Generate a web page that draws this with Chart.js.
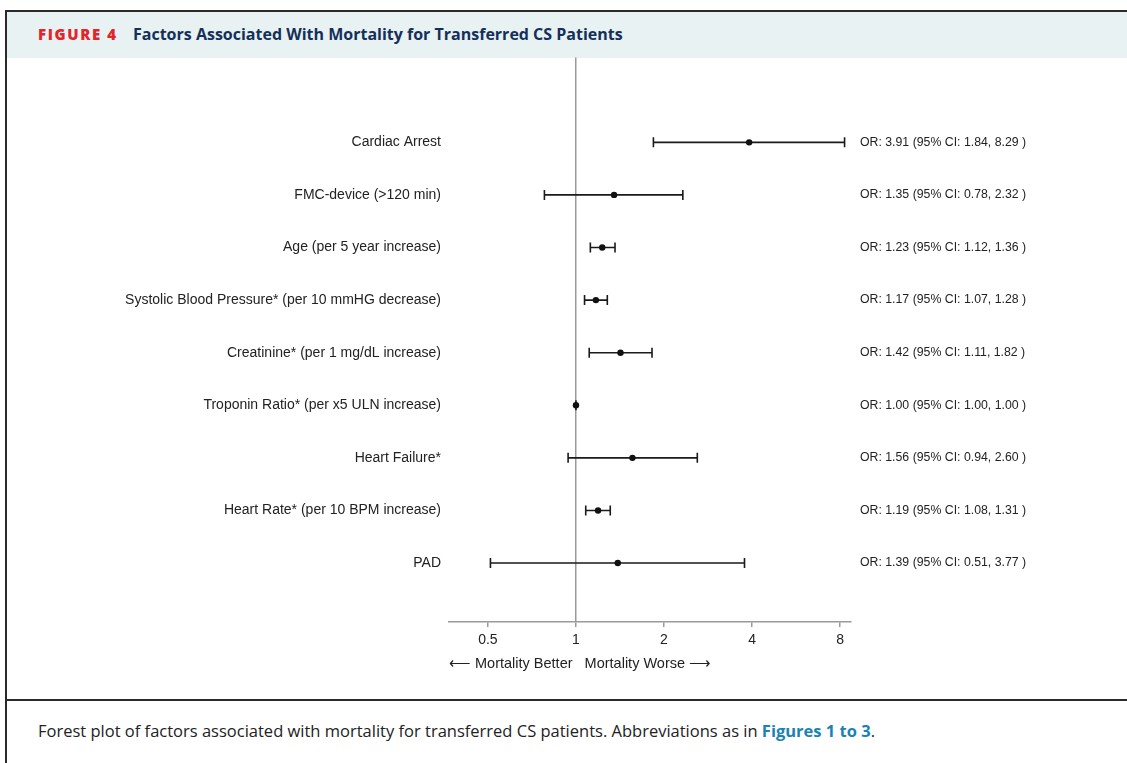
<!DOCTYPE html>
<html>
<head>
<meta charset="utf-8">
<script src="https://cdn.jsdelivr.net/npm/chart.js@4/dist/chart.umd.min.js"></script>
<style>
  body { margin: 0; background: #fff; width: 1127px; height: 763px; overflow: hidden; position: relative; }
  .frame { position: absolute; left: 5px; top: 10px; width: 1130px; height: 760px; border-left: 2px solid #2a2a2a; border-top: 2px solid #2a2a2a; }
  .head { position: absolute; left: 0; top: 0; width: 100%; height: 46px; background: #e9f2f2; }
  .head span { position: absolute; font-family: "Open Sans", sans-serif; font-weight: 700; }
  .fig { left: 31px; top: 12px; color: #e0262c; letter-spacing: 1.6px; font-size: 15px; font-weight: 800 !important; }
  .ttl { left: 126px; top: 11px; color: #14305a; font-size: 16px; }
  .sep { position: absolute; left: 0; top: 687px; width: 100%; border-top: 2px solid #2a2a2a; }
  .cap { position: absolute; left: 31px; top: 707px; font-family: "Open Sans", sans-serif; font-size: 16.5px; color: #222; white-space: nowrap; }
  .cap b { color: #1a83b3; }
  #wrap { position: absolute; left: 7px; top: 41px; width: 1120px; height: 658px; }
</style>
</head>
<body>
<div class="frame">
  <div class="head"><span class="fig">FIGURE 4</span><span class="ttl">Factors Associated With Mortality for Transferred CS Patients</span></div>
  <div class="sep"></div>
  <div class="cap">Forest plot of factors associated with mortality for transferred CS patients. Abbreviations as in <b>Figures 1 to 3</b>.</div>
</div>
<div id="wrap"><canvas id="forest"></canvas></div>
<script>
const factors = ["Cardiac Arrest", "FMC-device (>120 min)", "Age (per 5 year increase)",
  "Systolic Blood Pressure* (per 10 mmHG decrease)", "Creatinine* (per 1 mg/dL increase)",
  "Troponin Ratio* (per x5 ULN increase)", "Heart Failure*", "Heart Rate* (per 10 BPM increase)", "PAD"];
const oddsRatio = [3.91, 1.35, 1.23, 1.17, 1.42, 1.00, 1.56, 1.19, 1.39];
const ciLow = [1.84, 0.78, 1.12, 1.07, 1.11, 1.00, 0.94, 1.08, 0.51];
const ciHigh = [8.29, 2.32, 1.36, 1.28, 1.82, 1.00, 2.60, 1.31, 3.77];
const xTicks = [0.5, 1, 2, 4, 8];

const orText = oddsRatio.map((v, i) =>
  "OR: " + v.toFixed(2) + " (95% CI: " + ciLow[i].toFixed(2) + ", " + ciHigh[i].toFixed(2) + " )");

const rowTicks = axis => { axis.ticks = factors.map((_, i) => ({ value: i + 1 })); };

// whiskers for the confidence intervals
const whiskers = {
  id: "whiskers",
  beforeDatasetsDraw(chart) {
    const { ctx, scales: { x, y } } = chart;
    ctx.save();
    ctx.strokeStyle = "#1a1a1a";
    ctx.lineWidth = 1.6;
    factors.forEach((_, i) => {
      const py = y.getPixelForValue(i + 1);
      const x1 = x.getPixelForValue(ciLow[i]);
      const x2 = x.getPixelForValue(ciHigh[i]);
      ctx.beginPath();
      ctx.moveTo(x1, py); ctx.lineTo(x2, py);
      ctx.moveTo(x1, py - 5); ctx.lineTo(x1, py + 5);
      ctx.moveTo(x2, py - 5); ctx.lineTo(x2, py + 5);
      ctx.stroke();
    });
    ctx.restore();
  }
};

const labelFont = { family: "Liberation Sans, Arial, sans-serif", size: 14 };

new Chart(document.getElementById("forest"), {
  type: "scatter",
  data: {
    datasets: [{
      data: oddsRatio.map((v, i) => ({ x: v, y: i + 1 })),
      pointRadius: 3.2,
      pointBackgroundColor: "#111",
      pointBorderColor: "#111",
      pointBorderWidth: 0
    }]
  },
  options: {
    responsive: true,
    maintainAspectRatio: false,
    animation: false,
    layout: { padding: 0 },
    plugins: { legend: { display: false }, tooltip: { enabled: false } },
    scales: {
      x: {
        type: "logarithmic",
        min: 0.368,
        max: 8.72,
        afterBuildTicks: axis => { axis.ticks = xTicks.map(v => ({ value: v })); },
        afterFit: axis => { axis.height = 77; },
        ticks: {
          color: "#222",
          font: labelFont,
          padding: 5,
          maxRotation: 0,
          autoSkip: false,
          callback: v => String(v)
        },
        grid: {
          drawOnChartArea: true,
          color: ctx => (ctx.tick && ctx.tick.value === 1 ? "#9a9a9a" : "rgba(0,0,0,0)"),
          lineWidth: 1.5,
          tickColor: "#9a9a9a",
          tickLength: 5
        },
        border: { display: true, color: "#9a9a9a", width: 1.5 },
        title: {
          display: true,
          align: "start",
          text: "\u27F5 Mortality Better   Mortality Worse \u27F6",
          color: "#222",
          font: { family: "Liberation Sans, Arial, sans-serif", size: 14.5 },
          padding: { top: 0, bottom: 26, left: 0, right: 0 }
        }
      },
      y: {
        type: "linear",
        position: "left",
        reverse: true,
        min: -0.615,
        max: 10.121,
        afterBuildTicks: rowTicks,
        afterFit: axis => { axis.width = 442; },
        ticks: { color: "#222", font: labelFont, padding: 8, callback: v => factors[v - 1] },
        grid: { display: false, drawTicks: false },
        border: { display: false }
      },
      or: {
        type: "linear",
        position: "right",
        reverse: true,
        min: -0.615,
        max: 10.121,
        afterBuildTicks: rowTicks,
        afterFit: axis => { axis.width = 276; },
        ticks: { color: "#222", font: { family: "Liberation Sans, Arial, sans-serif", size: 12.3 }, padding: 9, callback: v => orText[v - 1] },
        grid: { display: false, drawTicks: false },
        border: { display: false }
      }
    }
  },
  plugins: [whiskers]
});
</script>
</body>
</html>
